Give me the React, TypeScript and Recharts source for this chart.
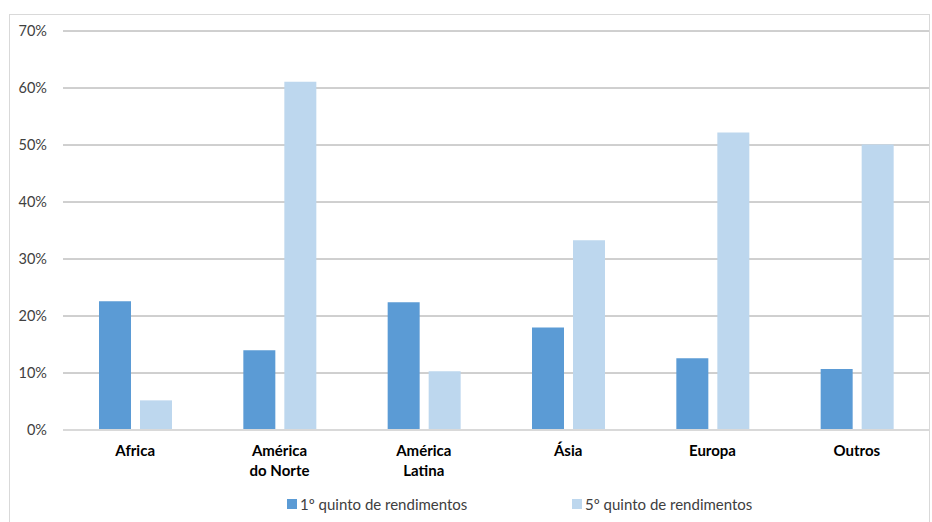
import React from "react";
import { BarChart, Bar, XAxis, YAxis, CartesianGrid } from "recharts";

const categories = ["Africa", "América\ndo Norte", "América\nLatina", "Ásia", "Europa", "Outros"];
const firstQuintile = [22.6, 14.0, 22.4, 18.0, 12.6, 10.7];
const fifthQuintile = [5.2, 61.1, 10.3, 33.3, 52.2, 50.1];
const yTicks = [0, 10, 20, 30, 40, 50, 60, 70];
const seriesNames = ["1º quinto de rendimentos", "5º quinto de rendimentos"];
const seriesColors = ["#5B9BD5", "#BDD7EE"];

const data = categories.map((c, i) => ({ name: c, q1: firstQuintile[i], q5: fifthQuintile[i] }));

const FONT = "Lato, 'Open Sans', sans-serif";

const XTick = (props: any) => {
  const { x, y, payload } = props;
  const lines = String(payload.value).split("\n");
  return (
    <text x={x} y={y} textAnchor="middle" fontFamily={FONT} fontSize={15} fontWeight={700} fill="#000">
      {lines.map((l, i) => (
        <tspan key={i} x={x} dy={i === 0 ? 18 : 20}>{l}</tspan>
      ))}
    </text>
  );
};

const LegendBox = () => {
  const lefts = [287, 572];
  return (
    <div style={{ position: "absolute", left: 0, top: 495, width: 932, height: 20 }}>
      {seriesNames.map((n, i) => (
        <div key={n} style={{ position: "absolute", left: lefts[i], top: 0, display: "flex", alignItems: "center", fontFamily: FONT, fontSize: 15, color: "#404040", whiteSpace: "nowrap" }}>
          <span style={{ display: "inline-block", width: 10, height: 10, background: seriesColors[i], marginRight: 3 }} />
          {n}
        </div>
      ))}
    </div>
  );
};

export default function App() {
  return (
    <div style={{ position: "absolute", left: 0, top: 0, width: 932, height: 522, background: "#fff" }}>
      <div style={{ position: "absolute", left: 9, top: 14, width: 921, height: 520, border: "1px solid #d9d9d9", boxSizing: "border-box" }} />
      <BarChart
        width={932}
        height={522}
        data={data}
        margin={{ top: 31, right: 3, bottom: 0, left: 0 }}
        barGap={9}
        barSize={32}
      >
        <CartesianGrid vertical={false} stroke="#a0a0a0" />
        <XAxis
          dataKey="name"
          tick={<XTick />}
          tickLine={false}
          axisLine={{ stroke: "#d9d9d9", strokeWidth: 2 }}
          interval={0}
          height={92}
        />
        <YAxis
          width={63}
          domain={[0, 70]}
          ticks={yTicks}
          tickFormatter={(v: number) => `${v}%`}
          axisLine={false}
          tickLine={false}
          tickMargin={10}
          tick={{ fontFamily: FONT, fontSize: 14.5, fill: "#404040" }}
        />
        <Bar dataKey="q1" name={seriesNames[0]} fill={seriesColors[0]} isAnimationActive={false} />
        <Bar dataKey="q5" name={seriesNames[1]} fill={seriesColors[1]} isAnimationActive={false} />
      </BarChart>
      <LegendBox />
    </div>
  );
}
